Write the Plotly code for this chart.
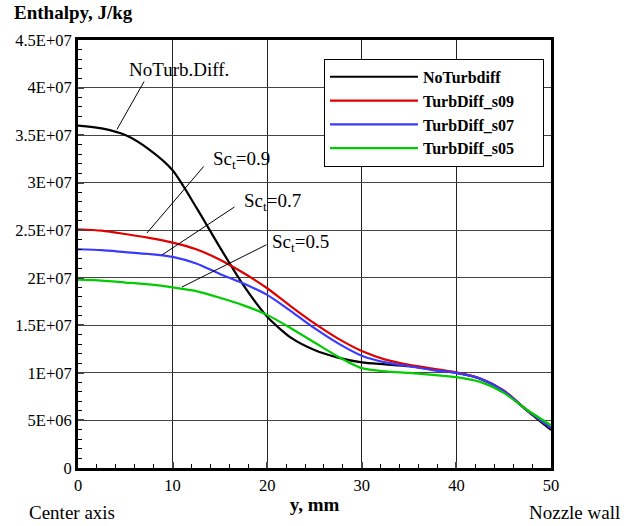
import plotly.graph_objects as go

y_mm = [0, 2.5, 5, 7.5, 10, 12.5, 15, 17.5, 20, 22.5, 25, 27.5, 30, 32.5, 35, 37.5, 40, 42.5, 45, 47.5, 50]

no_turb = [36.0, 35.7, 35.0, 33.5, 31.3, 27.4, 23.2, 19.2, 15.9, 13.7, 12.4, 11.6, 11.1, 10.9, 10.7, 10.35, 10.0, 9.4, 8.1, 6.0, 4.0]
s09 = [25.1, 24.95, 24.6, 24.2, 23.7, 23.0, 21.9, 20.5, 18.9, 17.0, 15.2, 13.6, 12.3, 11.4, 10.85, 10.45, 10.05, 9.4, 8.15, 6.05, 4.2]
s07 = [23.0, 22.9, 22.7, 22.5, 22.2, 21.5, 20.4, 19.4, 18.2, 16.5, 14.7, 13.1, 11.8, 11.1, 10.7, 10.3, 10.0, 9.4, 8.1, 6.05, 4.2]
s05 = [19.8, 19.7, 19.5, 19.3, 19.0, 18.6, 17.9, 17.1, 16.1, 14.7, 13.2, 11.7, 10.5, 10.15, 10.0, 9.8, 9.55, 9.05, 7.9, 6.1, 4.5]

series_names = ["NoTurbdiff", "TurbDiff_s09", "TurbDiff_s07", "TurbDiff_s05"]
series_vals = [no_turb, s09, s07, s05]
series_colors = ["#000000", "#e00000", "#3a3aff", "#00cc00"]

y_tickvals = [0, 5e6, 10e6, 15e6, 20e6, 25e6, 30e6, 35e6, 40e6, 45e6]
y_ticktext = ["0", "5E+06", "1E+07", "1.5E+07", "2E+07", "2.5E+07", "3E+07", "3.5E+07", "4E+07", "4.5E+07"]
x_tickvals = [0, 10, 20, 30, 40, 50]

# callout labels: text position, leader-line tail and head (data units)
ann_labels = ["NoTurb.Diff.", "Sc<sub>t</sub>=0.9", "Sc<sub>t</sub>=0.7", "Sc<sub>t</sub>=0.5"]
ann_text_x = [5.29, 14.16, 17.44, 20.40]
ann_text_y = [41.95e6, 32.39e6, 27.97e6, 23.66e6]
lead_tail_x = [7.08, 13.42, 16.70, 20.08]
lead_tail_y = [40.8e6, 31.86e6, 27.55e6, 23.55e6]
lead_head_x = [4.12, 7.29, 8.88, 10.99]
lead_head_y = [35.6e6, 24.71e6, 22.40e6, 19.03e6]

serif = "Liberation Serif, Times New Roman, serif"

fig = go.Figure()
for name, vals, col in zip(series_names, series_vals, series_colors):
    fig.add_trace(go.Scatter(
        x=y_mm, y=[v * 1e6 for v in vals], mode="lines",
        name="<b>" + name + "</b>" + "&nbsp;" * 6,
        line=dict(color=col, width=2.2, shape="spline", smoothing=0.7),
    ))

for lab, tx, ty in zip(ann_labels, ann_text_x, ann_text_y):
    fig.add_annotation(
        x=tx, y=ty, xref="x", yref="y", text=lab, showarrow=False,
        xanchor="left", yanchor="middle", borderpad=0,
        font=dict(family=serif, size=19, color="black"),
    )
for x0, y0, x1, y1 in zip(lead_tail_x, lead_tail_y, lead_head_x, lead_head_y):
    fig.add_annotation(
        x=x1, y=y1, xref="x", yref="y", ax=x0, ay=y0, axref="x", ayref="y",
        text="", showarrow=True, arrowhead=0, arrowwidth=1, arrowcolor="black",
        standoff=0, startstandoff=0,
    )

fig.add_annotation(x=0, y=1, xref="paper", yref="paper", xshift=-66, yshift=28,
                   text="<b>Enthalpy, J/kg</b>", showarrow=False, xanchor="left", yanchor="middle",
                   font=dict(family=serif, size=19, color="black"))
fig.add_annotation(x=0, y=0, xref="paper", yref="paper", xshift=-51, yshift=-44,
                   text="Center axis", showarrow=False, xanchor="left", yanchor="middle",
                   font=dict(family=serif, size=19, color="black"))
fig.add_annotation(x=1, y=0, xref="paper", yref="paper", xshift=71, yshift=-44,
                   text="Nozzle wall", showarrow=False, xanchor="right", yanchor="middle",
                   font=dict(family=serif, size=19, color="black"))

fig.update_layout(
    width=624, height=526,
    margin=dict(l=78, r=73, t=40, b=58),
    paper_bgcolor="white", plot_bgcolor="white",
    font=dict(family=serif, size=16, color="black"),
    showlegend=True,
    legend=dict(
        x=0.52, y=0.956, xanchor="left", yanchor="top",
        bgcolor="white", bordercolor="black", borderwidth=1,
        font=dict(family=serif, size=16, color="black"),
        tracegroupgap=0, itemwidth=88,
    ),
    xaxis=dict(
        range=[0, 50], tickvals=x_tickvals, ticks="inside", ticklen=6, tickwidth=2,
        showgrid=True, gridcolor="#222222", gridwidth=1,
        showline=True, linecolor="black", linewidth=3, mirror=True, zeroline=False,
        minor=dict(dtick=2, ticks="inside", ticklen=4, tickwidth=1, tickcolor="black", showgrid=False),
        title=dict(text="<b>y, mm</b>", font=dict(family=serif, size=19), standoff=4),
        tickfont=dict(family=serif, size=16.5),
    ),
    yaxis=dict(
        range=[0, 45e6], tickvals=y_tickvals, ticktext=y_ticktext, ticks="inside", ticklen=6, tickwidth=2,
        showgrid=True, gridcolor="#444444", gridwidth=1,
        showline=True, linecolor="black", linewidth=3, mirror=True, zeroline=False,
        minor=dict(dtick=1e6, ticks="inside", ticklen=4, tickwidth=1, tickcolor="black", showgrid=False),
        tickfont=dict(family=serif, size=16.5),
    ),
)

fig.write_html("out.html")
